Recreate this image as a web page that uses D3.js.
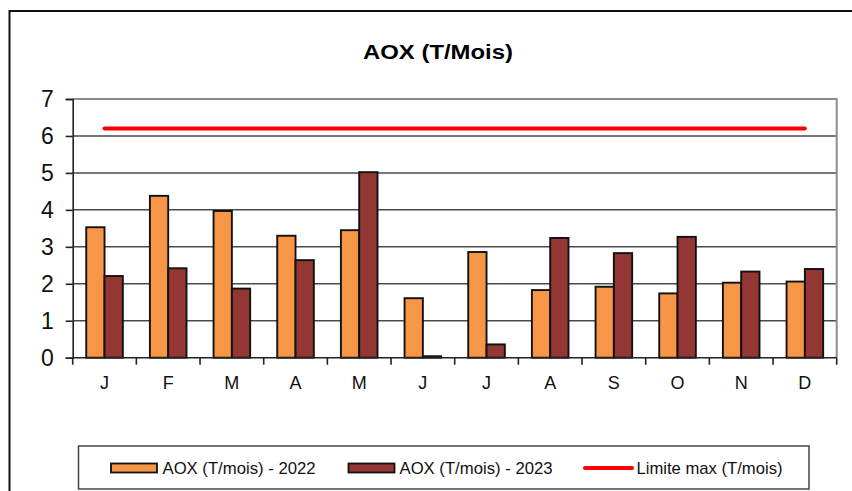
<!DOCTYPE html>
<html>
<head>
<meta charset="utf-8">
<script src="https://cdn.jsdelivr.net/npm/d3@7"></script>
<style>
  html, body { margin: 0; padding: 0; background: #fff; }
  svg { display: block; font-family: "Liberation Sans", Arial, sans-serif; }
</style>
</head>
<body>
<svg id="chart" width="852" height="491"></svg>
<script>
const months = ["J","F","M","A","M","J","J","A","S","O","N","D"];
const aox2022 = [3.53, 4.38, 3.97, 3.30, 3.45, 1.61, 2.86, 1.83, 1.92, 1.74, 2.03, 2.06];
const aox2023 = [2.21, 2.42, 1.87, 2.64, 5.02, 0.04, 0.36, 3.24, 2.83, 3.27, 2.33, 2.40];
const limitMax = [6.2, 6.2, 6.2, 6.2, 6.2, 6.2, 6.2, 6.2, 6.2, 6.2, 6.2, 6.2];
const yTicks = [0, 1, 2, 3, 4, 5, 6, 7];
const title = "AOX (T/Mois)";
const seriesNames = ["AOX (T/mois) - 2022", "AOX (T/mois) - 2023", "Limite max (T/mois)"];

const colors = { c2022: "#f79646", c2023: "#943634", limit: "#ff0000" };

const svg = d3.select("#chart");

// outer frame
svg.append("rect")
  .attr("x", 9.5).attr("y", 11).attr("width", 860).attr("height", 500)
  .attr("fill", "none").attr("stroke", "#111").attr("stroke-width", 2);

// title
svg.append("text")
  .attr("x", 438).attr("y", 58.5)
  .attr("text-anchor", "middle")
  .attr("font-size", 21).attr("font-weight", "bold")
  .attr("textLength", 150).attr("lengthAdjust", "spacingAndGlyphs")
  .text(title);

const plot = { left: 72.7, right: 836.7, top: 99, bottom: 357.7 };

const idx = months.map((m, i) => i);
const x0 = d3.scaleBand().domain(idx).range([plot.left, plot.right]).paddingInner(0).paddingOuter(0);
const bw = x0.bandwidth();
const gw = bw * 0.575;
const x1 = d3.scaleBand().domain([0, 1]).range([(bw - gw) / 2, (bw + gw) / 2]);
const y = d3.scaleLinear().domain([0, 7]).range([plot.bottom, plot.top]);

// grid lines
svg.append("g").selectAll("line").data(yTicks.filter(t => t > 0 && t < 7)).join("line")
  .attr("x1", plot.left).attr("x2", plot.right)
  .attr("y1", d => y(d)).attr("y2", d => y(d))
  .attr("stroke", "#4a4a4a").attr("stroke-width", 1.5);

// plot border (gray)
svg.append("path")
  .attr("d", `M${plot.left},${plot.top}H${plot.right}V${plot.bottom}`)
  .attr("fill", "none").attr("stroke", "#8c8c8c").attr("stroke-width", 2);

// bars
const groups = svg.append("g").selectAll("g").data(idx).join("g")
  .attr("transform", d => `translate(${x0(d)},0)`);
groups.append("rect")
  .attr("x", x1(0)).attr("width", x1.bandwidth())
  .attr("y", d => y(aox2022[d])).attr("height", d => y(0) - y(aox2022[d]))
  .attr("fill", colors.c2022).attr("stroke", "#111").attr("stroke-width", 1.9);
groups.append("rect")
  .attr("x", x1(1)).attr("width", x1.bandwidth())
  .attr("y", d => y(aox2023[d])).attr("height", d => y(0) - y(aox2023[d]))
  .attr("fill", colors.c2023).attr("stroke", "#111").attr("stroke-width", 1.9);

// limit line
const line = d3.line().x((d, i) => x0(i) + bw / 2).y(d => y(d));
svg.append("path").datum(limitMax)
  .attr("d", line)
  .attr("fill", "none").attr("stroke", colors.limit)
  .attr("stroke-width", 4).attr("stroke-linecap", "round");

// y axis
const yAxis = d3.axisLeft(y).tickValues(yTicks).tickSize(7).tickPadding(12).tickFormat(d3.format("d"));
const gy = svg.append("g").attr("transform", `translate(${plot.left},0)`).call(yAxis);
gy.select(".domain").attr("stroke", "#222").attr("stroke-width", 1.6);
gy.selectAll(".tick line").attr("stroke", "#222").attr("stroke-width", 1.6);
gy.selectAll(".tick text").attr("font-size", 23).attr("fill", "#111")
  .attr("font-family", "Liberation Sans, Arial, sans-serif");

// x axis
const xBoundaries = d3.range(0, months.length + 1).map(i => plot.left + i * bw);
svg.append("line")
  .attr("x1", plot.left).attr("x2", plot.right)
  .attr("y1", plot.bottom).attr("y2", plot.bottom)
  .attr("stroke", "#222").attr("stroke-width", 1.6);
svg.append("g").selectAll("line").data(xBoundaries).join("line")
  .attr("x1", d => d).attr("x2", d => d)
  .attr("y1", plot.bottom).attr("y2", plot.bottom + 7)
  .attr("stroke", "#222").attr("stroke-width", 1.6);
svg.append("g").selectAll("text").data(idx).join("text")
  .attr("x", d => x0(d) + bw / 2).attr("y", 389)
  .attr("text-anchor", "middle").attr("font-size", 18).attr("fill", "#111")
  .text(d => months[d]);

// legend
const lg = svg.append("g");
lg.append("rect")
  .attr("x", 78.5).attr("y", 446).attr("width", 730.5).attr("height", 43)
  .attr("fill", "#fff").attr("stroke", "#444").attr("stroke-width", 1.5);
const legendItems = [
  { type: "rect", color: colors.c2022, x: 111, tx: 162.5, w: 153, name: seriesNames[0] },
  { type: "rect", color: colors.c2023, x: 348.5, tx: 399.5, w: 153, name: seriesNames[1] },
  { type: "line", color: colors.limit, x: 585, tx: 636.5, w: 146, name: seriesNames[2] }
];
legendItems.forEach(it => {
  if (it.type === "rect") {
    lg.append("rect").attr("x", it.x).attr("y", 463.5).attr("width", 46).attr("height", 9)
      .attr("fill", it.color).attr("stroke", "#111").attr("stroke-width", 1.8);
  } else {
    lg.append("line").attr("x1", it.x).attr("x2", it.x + 47).attr("y1", 468).attr("y2", 468)
      .attr("stroke", it.color).attr("stroke-width", 4).attr("stroke-linecap", "round");
  }
  lg.append("text").attr("x", it.tx).attr("y", 474)
    .attr("font-size", 17).attr("fill", "#111")
    .attr("textLength", it.w).attr("lengthAdjust", "spacingAndGlyphs")
    .text(it.name);
});
</script>
</body>
</html>
